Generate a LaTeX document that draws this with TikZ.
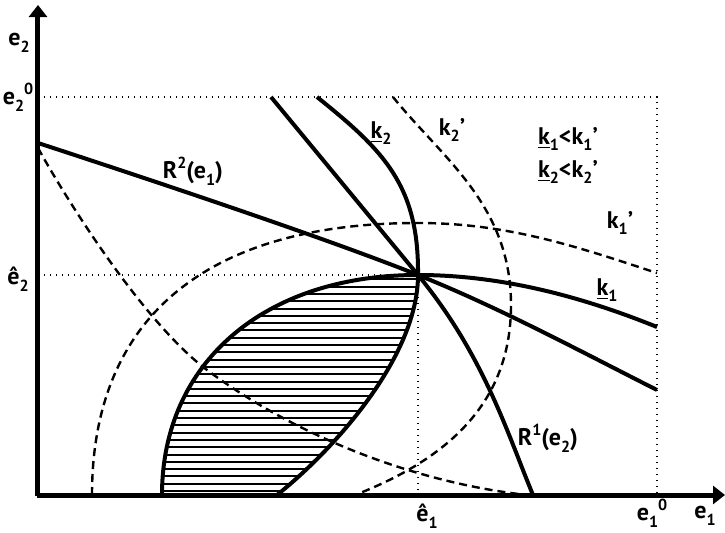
\documentclass[tikz,border=0pt]{standalone}
\usepackage{fontspec}
\setmainfont{PT Sans}
\usetikzlibrary{arrows.meta}
\newcommand\subtx[1]{\raisebox{-0.55ex}{\footnotesize #1}}
\newcommand\suptx[1]{\raisebox{0.85ex}{\footnotesize #1}}

\begin{document}
\begin{tikzpicture}[x=0.5pt,y=0.5pt,
    axis/.style={line width=2.5pt,-{Triangle[length=6pt,width=9pt]}},
    curve/.style={line width=2pt,line join=round},
    dashcurve/.style={line width=1.2pt,dash pattern=on 4pt off 2.5pt},
    guide/.style={line width=0.7pt,dash pattern=on 0.7pt off 2.3pt},
    hatch/.style={line width=1pt},
    lbl/.style={font=\bfseries\fontsize{12}{14}\selectfont,inner sep=1pt}]
  \useasboundingbox (-38,-37) rectangle (687,495);
  \coordinate (O) at (0,0);
  \coordinate (E) at (380,220);
  % dotted guide lines
  \draw[guide] (0,398) -- (619,398) -- (619,0);
  \draw[guide] (0,220) -- (E) -- (380,0);
  % hatched set between k1 and k2
  \begin{scope}
    \clip (E) .. controls (226,220) and (124,132) .. (124,0)
      -- (239,0) .. controls (299,48) and (380,140) .. (E) -- cycle;
    \foreach \h in {4,11.3,...,222}
      \draw[hatch] (100,\h) -- (400,\h);
  \end{scope}
  % dashed curves: k1', k2' and the lower one
  \draw[dashcurve] (54,0) .. controls (54,177) and (168,272) .. (380,272)
    .. controls (470,272) and (540,248) .. (619,222);
  \draw[dashcurve] (355,398) .. controls (405,336) and (473,290) .. (473,190)
    .. controls (473,100) and (420,40) .. (317,0);
  \draw[dashcurve] (0,347) .. controls (35,284) and (109,170) .. (169,125)
    .. controls (259,58) and (379,12) .. (489,0);
  % R2(e1) and R1(e2)
  \draw[curve] (0,352) .. controls (150,303) and (300,252) .. (E)
    .. controls (460,188) and (540,145) .. (619,105);
  \draw[curve] (233,398) -- (E) .. controls (446,140) and (470,60) .. (495,0);
  % k2 and k1
  \draw[curve] (279,398) .. controls (345,345) and (381,310) .. (E)
    .. controls (380,140) and (299,48) .. (239,0);
  \draw[curve] (619,168) .. controls (540,200) and (460,220) .. (E)
    .. controls (226,220) and (124,132) .. (124,0);
  % axes
  \draw[axis] (0,-1.25) -- (0,490);
  \draw[axis] (-1.25,0) -- (687,0);
  % labels
  \node[lbl] (ytit) at (-19,452) {e\subtx{2}};
  \node[lbl] (ymax) at (-20,398) {e\subtx{2}\suptx{0}};
  \node[lbl] (yhat) at (-20,216) {ê\subtx{2}};
  \node[lbl] (xhat) at (389,-21) {ê\subtx{1}};
  \node[lbl] (xmax) at (614,-18) {e\subtx{1}\suptx{0}};
  \node[lbl] (xtit) at (667,-21) {e\subtx{1}};
  \node[lbl] (rone) at (510,57) {R\suptx{1}(e\subtx{2})};
  \node[lbl] (rtwo) at (155,324) {R\suptx{2}(e\subtx{1})};
  \node[lbl] (ktwo) at (343,362) {\underline{k}\subtx{2}};
  \node[lbl] (ktwop) at (414,365) {k\subtx{2}'};
  \node[lbl] (rela) at (530,356) {\underline{k}\subtx{1}<k\subtx{1}'};
  \node[lbl] (relb) at (530,323) {\underline{k}\subtx{2}<k\subtx{2}'};
  \node[lbl] (konep) at (582,272) {k\subtx{1}'};
  \node[lbl] (kone) at (569,205) {\underline{k}\subtx{1}};
\end{tikzpicture}
\end{document}
